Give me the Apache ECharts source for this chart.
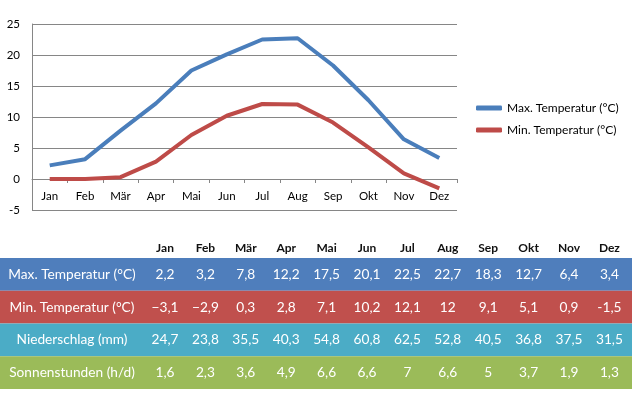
<!DOCTYPE html>
<html>
<head>
<meta charset="utf-8">
<script src="https://cdn.jsdelivr.net/npm/echarts@6/dist/echarts.min.js"></script>
<style>
  html, body { margin: 0; padding: 0; background: #fff; }
  #main { width: 636px; height: 397px; }
</style>
</head>
<body>
<div id="main"></div>
<script>
// Monate und Werte
var months = ['Jan', 'Feb', 'Mär', 'Apr', 'Mai', 'Jun', 'Jul', 'Aug', 'Sep', 'Okt', 'Nov', 'Dez'];
var maxTemp = [2.2, 3.2, 7.8, 12.2, 17.5, 20.1, 22.5, 22.7, 18.3, 12.7, 6.4, 3.4];
// Linie im Diagramm (Jan/Feb als 0 gezeichnet)
var minTempLine = [0, 0, 0.3, 2.8, 7.1, 10.2, 12.1, 12, 9.1, 5.1, 0.9, -1.5];
// Werte in der Tabelle
var minTemp = ['−3,1', '−2,9', '0,3', '2,8', '7,1', '10,2', '12,1', '12', '9,1', '5,1', '0,9', '-1,5'];
var niederschlag = [24.7, 23.8, 35.5, 40.3, 54.8, 60.8, 62.5, 52.8, 40.5, 36.8, 37.5, 31.5];
var sonne = [1.6, 2.3, 3.6, 4.9, 6.6, 6.6, 7, 6.6, 5, 3.7, 1.9, 1.3];
var yTicks = [-5, 0, 5, 10, 15, 20, 25];

var font = 'Lato, "Open Sans", sans-serif';

function fmt(v) {
    return String(v).replace('.', ',');
}

// Tabelle
var rows = [
    { name: 'Max. Temperatur (°C)', color: '#4F7EBC', vals: maxTemp.map(fmt) },
    { name: 'Min. Temperatur (°C)', color: '#C0504D', vals: minTemp },
    { name: 'Niederschlag (mm)', color: '#4BACC6', vals: niederschlag.map(fmt) },
    { name: 'Sonnenstunden (h/d)', color: '#9BBB59', vals: sonne.map(fmt) }
];
var graphics = [];
var colX0 = 165, colW = 40.4, rowY0 = 258, rowH = 32.75;
months.forEach(function (m, i) {
    graphics.push({
        type: 'text', x: colX0 + i * colW, y: 248,
        style: { text: m, font: 'bold 12px ' + font, fill: '#111', align: 'center', verticalAlign: 'middle' }
    });
});
rows.forEach(function (r, j) {
    var y = rowY0 + j * rowH;
    graphics.push({
        type: 'rect', shape: { x: 0, y: y, width: 632, height: rowH },
        style: { fill: r.color }
    });
    graphics.push({
        type: 'text', x: 72, y: y + rowH / 2,
        style: { text: r.name, font: '13.7px ' + font, fill: '#fff', align: 'center', verticalAlign: 'middle' }
    });
    r.vals.forEach(function (v, i) {
        graphics.push({
            type: 'text', x: colX0 + i * colW, y: y + rowH / 2,
            style: { text: v, font: '13.7px ' + font, fill: '#fff', align: 'center', verticalAlign: 'middle' }
        });
    });
});

var myChart = echarts.init(document.getElementById('main'));
var option = {
    animation: false,
    color: ['#4A7EBB', '#BE4B48'],
    grid: { left: 32, right: 179, top: 24, bottom: 187 },
    legend: {
        orient: 'vertical',
        left: 476,
        top: 102,
        padding: 0,
        itemWidth: 26,
        itemHeight: 5,
        itemGap: 10,
        icon: 'roundRect',
        textStyle: { fontFamily: font, fontSize: 12, color: '#000' },
        data: ['Max. Temperatur (°C)', 'Min. Temperatur (°C)']
    },
    xAxis: {
        type: 'category',
        data: months,
        boundaryGap: true,
        // Achse auf die 0-Linie schieben (5 Einheiten = 31 px)
        offset: -31,
        axisLine: { onZero: false, lineStyle: { color: '#868686' } },
        axisTick: { show: true, length: 4, lineStyle: { color: '#868686' } },
        axisLabel: { margin: 11, fontFamily: font, fontSize: 11.5, color: '#000' }
    },
    yAxis: {
        type: 'value',
        min: yTicks[0],
        max: yTicks[yTicks.length - 1],
        interval: 5,
        axisLine: { show: true, lineStyle: { color: '#868686' } },
        axisTick: { show: false },
        splitLine: { lineStyle: { color: '#868686' } },
        axisLabel: { margin: 12, fontFamily: font, fontSize: 11.5, color: '#000' }
    },
    series: [{
        name: 'Max. Temperatur (°C)',
        type: 'line',
        data: maxTemp,
        symbol: 'none',
        lineStyle: { width: 4 }
    }, {
        name: 'Min. Temperatur (°C)',
        type: 'line',
        data: minTempLine,
        symbol: 'none',
        lineStyle: { width: 4 }
    }],
    graphic: graphics
};
myChart.setOption(option);
</script>
</body>
</html>
